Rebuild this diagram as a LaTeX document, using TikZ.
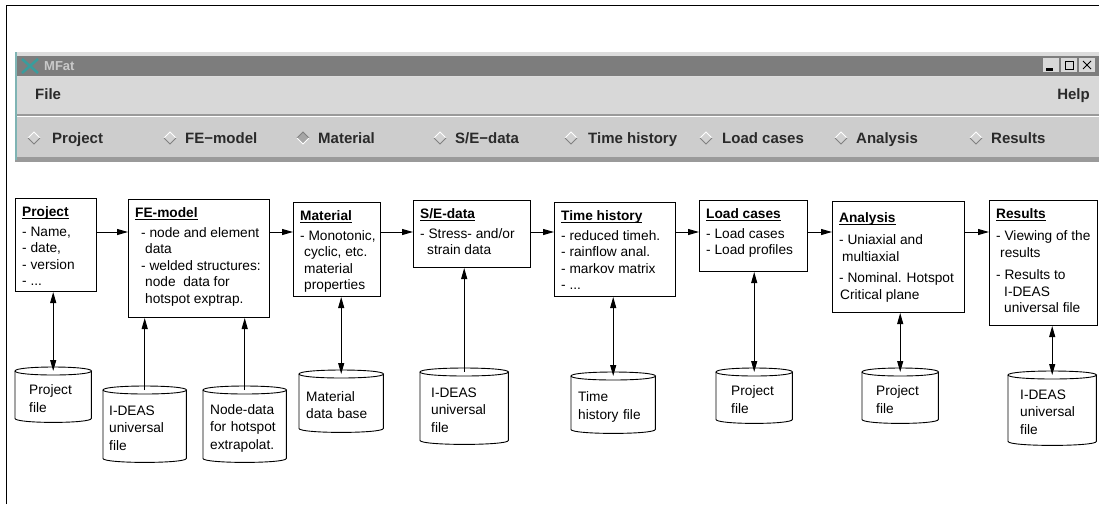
\documentclass[tikz,border=0pt]{standalone}
\usepackage{fontspec}
\setmainfont{Liberation Sans}
\usetikzlibrary{arrows.meta}

\definecolor{winlight}{HTML}{DCDCDC}
\definecolor{titlebar}{HTML}{7D7D7D}
\definecolor{menubar}{HTML}{D8D8D8}
\definecolor{radiobar}{HTML}{CDCDCD}
\definecolor{winshade}{HTML}{9A9A9A}
\definecolor{wintint}{HTML}{7FB4B4}
\definecolor{xicon}{HTML}{3A9C9C}
\definecolor{wintext}{HTML}{2A2A2A}

% underlined bold heading of a stage box
\newcommand{\stagetitle}[1]{\setbox0\hbox{\bfseries #1}\rlap{\rule[-2.8pt]{\wd0}{1.2pt}}\box0}

\begin{document}
\begin{tikzpicture}[
    x=1pt, y=-1pt,
    stage/.style={
        draw,
        line width=1pt,
        anchor=north west,
        inner sep=0pt,
    },
    stagetext/.style={
        anchor=north west,
        inner sep=0pt,
        align=left,
        xshift=7pt,
        yshift=-8pt,
        font=\fontsize{13.7}{16.5}\selectfont,
    },
    store/.style={
        anchor=north west,
        inner ysep=0pt,
        align=left,
        font=\fontsize{13.7}{17.5}\selectfont,
    },
    storeline/.style={
        line width=0.9pt,
    },
    flow/.style={
        line width=1pt,
        -{Triangle[length=11pt,width=6pt]},
    },
    both/.style={
        line width=1pt,
        {Triangle[length=11pt,width=6pt]}-{Triangle[length=11pt,width=6pt]},
    },
    menu/.style={
        font=\fontsize{15}{18}\bfseries,
        text=wintext,
        inner sep=0pt,
        anchor=base west,
    },
]
    \useasboundingbox (0,0) rectangle (1099,504);

    % Frame
    \draw[line width=1pt] (6,504) -- (6,5) -- (1099,5);

    % Window
    \fill[winlight] (15,52) rectangle (1099,162);
    \fill[titlebar] (16,56) rectangle (1099,76);
    \fill[menubar] (17,77) rectangle (1099,114);
    \fill[winshade] (17,114) rectangle (1099,116);
    \fill[white] (17,116) rectangle (1099,117);
    \fill[radiobar] (17,117) rectangle (1099,157);
    \fill[winshade] (15,157) rectangle (1099,162);
    \fill[wintint] (15,52) rectangle (17,160);
    \draw[xicon, line width=2.5pt] (22,59) -- (38,73) (22,73) -- (38,59);
    \node[menu, text=winlight!80!gray, font=\fontsize{13}{16}\bfseries] (apptitle) at (44,70) {MFat};
    \foreach \x in {1043,1061,1079}
        \fill[menubar] (\x,58) rectangle ++(16,14);
    \fill[black] (1046,68) rectangle (1053,71);
    \draw[black, line width=1pt] (1065,61) rectangle (1073,69);
    \draw[black, line width=1pt] (1083,61) -- (1091,69) (1083,69) -- (1091,61);
    \node[menu] (filemenu) at (35,99) {File};
    \node[menu, anchor=base east] (helpmenu) at (1090,99) {Help};

    % Radio buttons
    \foreach \x/\tx/\t in {34/52/Project,170/185/FE−model,440/455/{S/E−data},571/588/Time history,706/722/Load cases,841/856/Analysis,976/991/Results} {
        \fill[radiobar!90!white] (\x-6,138) -- (\x,132) -- (\x+6,138) -- (\x,144) -- cycle;
        \draw[white, line width=1pt] (\x-6,138) -- (\x,132) -- (\x+6,138);
        \draw[gray, line width=1pt] (\x-6,138) -- (\x,144) -- (\x+6,138);
        \node[menu] (radio\tx) at (\tx,143) {\t};
    }
    \fill[gray!70] (297,138) -- (303,132) -- (309,138) -- (303,144) -- cycle;
    \draw[gray, line width=1pt] (297,138) -- (303,132) -- (309,138);
    \draw[white, line width=1pt] (297,138) -- (303,144) -- (309,138);
    \node[menu] (radiomaterial) at (318,143) {Material};

    % Stages
    \node[stage, minimum width=81pt, minimum height=93pt] (project) at (15,198) {};
    \node[stagetext] (projecttxt) at (project.north west) {\stagetitle{Project}\\[3.5pt]
        - Name,\\- date,\\- version\\- ...};

    \node[stage, minimum width=141pt, minimum height=118pt] (femodel) at (128,199) {};
    \node[stagetext] (femodeltxt) at (femodel.north west) {\stagetitle{FE-model}\\[3.5pt]
        \hspace*{6pt}- node and element\\\hspace*{10pt}data\\
        \hspace*{6pt}- welded structures:\\\hspace*{10pt}node\ \ data for\\\hspace*{10pt}hotspot exptrap.};

    \node[stage, minimum width=87pt, minimum height=94pt] (material) at (293,202) {};
    \node[stagetext] (materialtxt) at (material.north west) {\stagetitle{Material}\\[3.5pt]
        - Monotonic,\\\hspace*{4pt}cyclic, etc.\\\hspace*{4pt}material\\\hspace*{4pt}properties};

    \node[stage, minimum width=117pt, minimum height=67pt] (sedata) at (413,200) {};
    \node[stagetext] (sedatatxt) at (sedata.north west) {\stagetitle{S/E-data}\\[3.5pt]
        - Stress- and/or\\\hspace*{7pt}strain data};

    \node[stage, minimum width=121pt, minimum height=94pt] (timehist) at (554,202) {};
    \node[stagetext] (timehisttxt) at (timehist.north west) {\stagetitle{Time history}\\[3.5pt]
        - reduced timeh.\\- rainflow anal.\\- markov matrix\\- ...};

    \node[stage, minimum width=108pt, minimum height=71pt] (loadcases) at (699,200) {};
    \node[stagetext] (loadcasestxt) at (loadcases.north west) {\stagetitle{Load cases}\\[3.5pt]
        - Load cases\\- Load profiles};

    \node[stage, minimum width=132pt, minimum height=111pt] (analysis) at (832,201) {};
    \node[stagetext, yshift=-3pt] (analysistxt) at (analysis.north west) {\stagetitle{Analysis}\\[6pt]
        - Uniaxial and\\\hspace*{3pt}multiaxial\\[5pt]- Nominal. Hotspot\\\hspace*{1pt}Critical plane};

    \node[stage, minimum width=108pt, minimum height=125pt] (results) at (989,200) {};
    \node[stagetext] (resultstxt) at (results.north west) {\stagetitle{Results}\\[6pt]
        - Viewing of the\\\hspace*{4pt}results\\[6pt]- Results to\\\hspace*{8pt}I-DEAS\\\hspace*{8pt}universal file};

    % Files
    \node[store, inner xsep=14pt, text width=48pt, minimum height=47pt] (pfile1) at (15,375) {Project\\file};
    \node[store, inner xsep=6pt, text width=71pt, minimum height=68pt] (ideas1) at (103,394) {I-DEAS\\universal\\file};
    \node[store, inner xsep=7pt, text width=69pt, minimum height=68pt] (nodedata) at (203,394) {Node-data\\for hotspot\\extrapolat.};
    \node[store, inner xsep=7pt, text width=70pt, minimum height=54pt] (matdb) at (299,378) {Material\\data base};
    \node[store, inner xsep=11pt, text width=66pt, minimum height=68pt] (ideas2) at (420,376) {I-DEAS\\universal\\file};
    \node[store, inner xsep=7pt, text width=70pt, minimum height=53pt] (timefile) at (571,380) {Time\\history file};
    \node[store, inner xsep=15pt, text width=46pt, minimum height=47pt] (pfile2) at (716,376) {Project\\file};
    \node[store, inner xsep=14pt, text width=48pt, minimum height=47pt] (pfile3) at (862,376) {Project\\file};
    \node[store, inner xsep=12pt, text width=64pt, minimum height=66pt] (ideas3) at (1008,379) {I-DEAS\\universal\\file};

    \foreach \c in {pfile1,ideas1,nodedata,matdb,ideas2,timefile,pfile2,pfile3,ideas3} {
        \draw[storeline] ([yshift=4pt]\c.north west) -- ([yshift=4pt]\c.south west)
            .. controls ([yshift=-1.33pt]\c.south west) and ([yshift=-1.33pt]\c.south east) .. ([yshift=4pt]\c.south east)
            -- ([yshift=4pt]\c.north east);
        \draw[storeline] ([yshift=4pt]\c.north west)
            .. controls ([yshift=9.33pt]\c.north west) and ([yshift=9.33pt]\c.north east) .. ([yshift=4pt]\c.north east)
            .. controls ([yshift=-1.33pt]\c.north east) and ([yshift=-1.33pt]\c.north west) .. cycle;
    }

    % Flow between stages
    \coordinate (row) at (0,232);
    \foreach \a/\b in {project/femodel,femodel/material,material/sedata,sedata/timehist,timehist/loadcases,loadcases/analysis,analysis/results}
        \draw[flow] (\a.east |- row) -- (\b.west |- row);

    % Files to stages
    \draw[both] (project.south -| pfile1.north) -- ([yshift=4pt]pfile1.north);
    \draw[flow] ([yshift=4pt]ideas1.north) -- (femodel.south -| ideas1.north);
    \draw[flow] ([yshift=4pt]nodedata.north) -- (femodel.south -| nodedata.north);
    \draw[both] (material.south -| matdb.north) -- ([yshift=4pt]matdb.north);
    \draw[flow] ([yshift=4pt]ideas2.north) -- (sedata.south -| ideas2.north);
    \draw[both] (timehist.south -| timefile.north) -- ([yshift=4pt]timefile.north);
    \draw[both] (loadcases.south -| pfile2.north) -- ([yshift=4pt]pfile2.north);
    \draw[both] (analysis.south -| pfile3.north) -- ([yshift=4pt]pfile3.north);
    \draw[both] (results.south -| ideas3.north) -- ([yshift=4pt]ideas3.north);

\end{tikzpicture}
\end{document}
